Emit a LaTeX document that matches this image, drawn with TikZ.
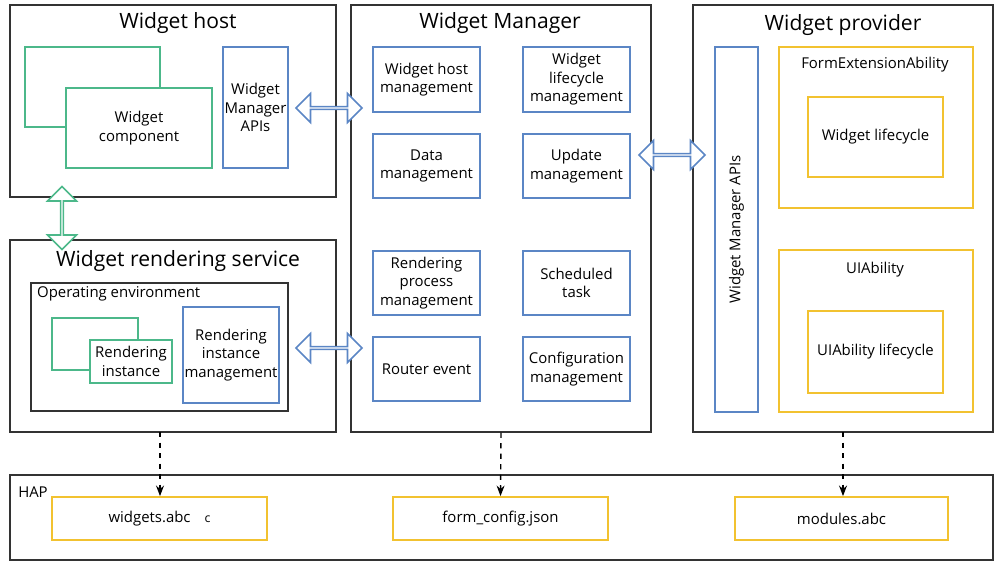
\documentclass[tikz,border=0pt]{standalone}
\usepackage{fontspec}
\setmainfont{Open Sans}
\usetikzlibrary{shapes.arrows,fit,arrows.meta}
\definecolor{wblue}{HTML}{5B86C5}
\definecolor{wgreen}{HTML}{4CB88A}
\definecolor{wyellow}{HTML}{F2C230}
\begin{document}
\begin{tikzpicture}[
    x=0.02cm, y=-0.02cm,
    frame/.style={draw=black!80, line width=0.6pt, inner sep=0},
    bbox/.style={draw=wblue, line width=0.9pt, inner sep=0},
    gbox/.style={draw=wgreen, line width=0.9pt, inner sep=0, fill=white},
    ybox/.style={draw=wyellow, line width=1pt, inner sep=0},
    lbl/.style={align=center, font=\fontsize{8.5}{10.5}\selectfont},
    title/.style={font=\fontsize{12}{14}\selectfont},
    dblarrow/.style={double arrow, draw=wblue, fill=white, line width=0.9pt, minimum height=1.32cm, minimum width=0.58cm, double arrow head extend=0.15cm, inner sep=0},
    dep/.style={-{Stealth[length=6pt]}, dashed, line width=0.8pt}
]
    \useasboundingbox (0,0) rectangle (1000,566);
    % main frames
    \node[frame, fit={(10,5) (336,197)}] (host) {};
    \node[frame, fit={(10,240) (336,432)}] (render) {};
    \node[frame, fit={(351,5) (651,432)}] (mgr) {};
    \node[frame, fit={(693,5) (993,432)}] (prov) {};
    \node[frame, fit={(10,475) (993,560)}] (hap) {};
    \node[title] at (178,23) {Widget host};
    \node[title] at (178,261) {Widget rendering service};
    \node[title] at (500,23) {Widget Manager};
    \node[title] at (843,25) {Widget provider};
    \node[lbl] at (33,492) {HAP};

    % widget host
    \node[gbox, fit={(25,47) (160,127)}] (compback) {};
    \node[gbox, fit={(66,88) (212,168)}] (comp) {};
    \node[lbl] at (comp.center) {Widget\\component};
    \node[bbox, fit={(223,47) (288,168)}] (hostapi) {};
    \node[lbl] at (hostapi.center) {Widget\\Manager\\APIs};

    % rendering service
    \node[frame, fit={(31,283) (288,411)}] (env) {};
    \node[lbl, anchor=west] at (31,294) {Operating environment};
    \node[gbox, fit={(52,318) (138,370)}] (instback) {};
    \node[gbox, fit={(90,340) (172,383)}] (inst) {};
    \node[lbl] at (inst.center) {Rendering\\instance};
    \node[bbox, fit={(183,307) (279,403)}] (instmgmt) {};
    \node[lbl] at (instmgmt.center) {Rendering\\instance\\management};

    % manager
    \node[bbox, fit={(373,47) (480,112)}] (hostmgmt) {};
    \node[lbl] at (hostmgmt.center) {Widget host\\management};
    \node[bbox, fit={(523,47) (630,112)}] (lifemgmt) {};
    \node[lbl] at (lifemgmt.center) {Widget\\lifecycle\\management};
    \node[bbox, fit={(373,134) (480,198)}] (datamgmt) {};
    \node[lbl] at (datamgmt.center) {Data\\management};
    \node[bbox, fit={(523,134) (630,198)}] (updmgmt) {};
    \node[lbl] at (updmgmt.center) {Update\\management};
    \node[bbox, fit={(373,251) (480,315)}] (procmgmt) {};
    \node[lbl] at (procmgmt.center) {Rendering\\process\\management};
    \node[bbox, fit={(523,251) (630,315)}] (task) {};
    \node[lbl] at (task.center) {Scheduled\\task};
    \node[bbox, fit={(373,337) (480,401)}] (router) {};
    \node[lbl] at (router.center) {Router event};
    \node[bbox, fit={(523,337) (630,401)}] (config) {};
    \node[lbl] at (config.center) {Configuration\\management};

    % provider
    \node[bbox, fit={(715,47) (758,412)}] (provapi) {};
    \node[lbl, rotate=90] at (provapi.center) {Widget Manager APIs};
    \node[ybox, fit={(779,47) (973,208)}] (formext) {};
    \node[lbl] at (875,65) {FormExtensionAbility};
    \node[ybox, fit={(808,97) (943,177)}] (formlife) {};
    \node[lbl] at (formlife.center) {Widget lifecycle};
    \node[ybox, fit={(779,250) (973,412)}] (uiab) {};
    \node[lbl] at (875,270) {UIAbility};
    \node[ybox, fit={(808,311) (943,393)}] (uilife) {};
    \node[lbl] at (uilife.center) {UIAbility lifecycle};

    % HAP files
    \node[ybox, fit={(52,497) (267,540)}] (abc) {};
    \node[lbl] at (abc.center) {widgets.abc\hspace{8pt}{\fontsize{7}{8}\selectfont c}};
    \node[ybox, fit={(393,497) (608,540)}] (json) {};
    \node[lbl] at (json.center) {form\_config.json};
    \node[ybox, fit={(735,497) (948,540)}] (mods) {};
    \node[lbl] at (mods.center) {modules.abc};

    % interfaces
    \node[dblarrow] (a1) at (329,108) {};
    \node[dblarrow] (a2) at (329,348) {};
    \node[dblarrow] (a3) at (672,155) {};
    \node[dblarrow, draw=wgreen, minimum height=1.26cm, shape border rotate=90] (a4) at (62,218) {};

    \draw[dep] (160,432) -- (abc.north -| 160,0);
    \draw[dep] (mgr.south) -- (json.north);
    \draw[dep] (843,432) -- (mods.north -| 843,0);
\end{tikzpicture}
\end{document}
